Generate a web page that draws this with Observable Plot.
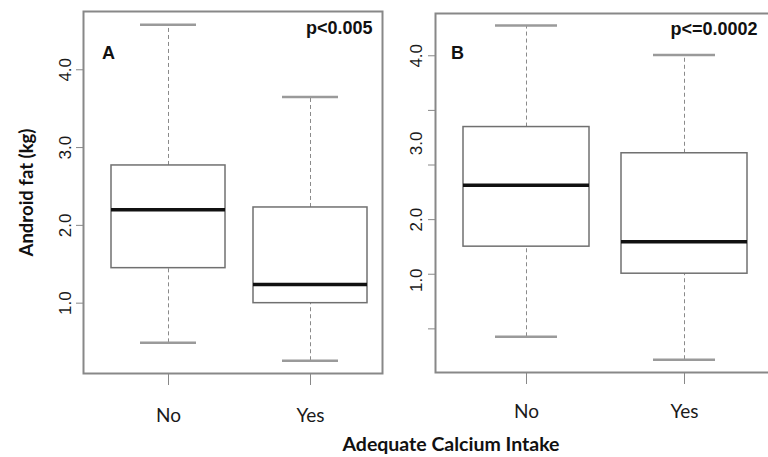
<!DOCTYPE html>
<html><head><meta charset="utf-8">
<script src="https://cdn.jsdelivr.net/npm/d3@7"></script>
<script src="https://cdn.jsdelivr.net/npm/@observablehq/plot@0.6"></script>
<style>
html,body{margin:0;padding:0;background:#fff;}
#wrap{position:relative;width:768px;height:457px;overflow:hidden;background:#fff;}
.pa,.pb{position:absolute;top:0;height:430px;}
.pa{left:0;width:390px;} .pb{left:380px;width:410px;}
.pa svg,.pb svg{max-width:none !important;}
svg g[aria-label="x-axis tick label"] text{font-family:Lato,"Open Sans",sans-serif;font-size:19px;fill:#1a1a1a;}
svg g[aria-label="y-axis tick label"] text{font-family:"Liberation Sans",Arial,sans-serif;font-size:17px;fill:#1a1a1a;}
#xt{position:absolute;left:251px;width:400px;top:434px;text-align:center;font-family:Lato,sans-serif;font-weight:bold;font-size:19.5px;line-height:20px;color:#111;}
</style></head>
<body><div id="wrap"><div class="pa" id="pa"></div><div class="pb" id="pb"></div><div id="xt">Adequate Calcium Intake</div></div>
<script>
const categories = ["No", "Yes"];
// Panel A
const aMin = [0.49, 0.26];
const aQ1  = [1.45, 1.00];
const aMed = [2.20, 1.24];
const aQ3  = [2.77, 2.23];
const aMax = [4.58, 3.65];
const aTicks = [1, 2, 3, 4];
const aTickLabels = ["1.0", "2.0", "3.0", "4.0"];
const aLetter = "A";
const aP = "p<0.005";
// Panel B
const bMin = [0.57, 0.29];
const bQ1  = [1.67, 1.34];
const bMed = [2.42, 1.73];
const bQ3  = [3.13, 2.81];
const bMax = [4.37, 4.01];
const bTickMarks = [4, 10/3, 8/3, 2, 4/3, 2/3];
const bLabelValues = [4.0, 2.93, 2.0, 1.26];
const bTickLabels = ["4.0", "3.0", "2.0", "1.0"];
const bLetter = "B";
const bP = "p<=0.0002";
const yTitle = "Android fat (kg)";

function rows(mn, q1, md, q3, mx) {
  return categories.map((c, i) => ({cat: c, min: mn[i], q1: q1[i], med: md[i], q3: q3[i], max: mx[i]}));
}

function boxMarks(data, capInset) {
  const ws = {x: "cat", stroke: "#8a8a8a", strokeWidth: 1, strokeDasharray: "4,3"};
  const cs = {x: "cat", insetLeft: capInset, insetRight: capInset, stroke: "#9a9a9a", strokeWidth: 2.5};
  return [
    Plot.ruleX(data, {...ws, y1: "q3", y2: "max"}),
    Plot.ruleX(data, {...ws, y1: "min", y2: "q1"}),
    Plot.tickY(data, {...cs, y: "max"}),
    Plot.tickY(data, {...cs, y: "min"}),
    Plot.barY(data, {x: "cat", y1: "q1", y2: "q3", fill: "white", stroke: "#707070", strokeWidth: 1.5}),
    Plot.tickY(data, {x: "cat", y: "med", stroke: "#111", strokeWidth: 3.5})
  ];
}

const dataA = rows(aMin, aQ1, aMed, aQ3, aMax);
const plotA = Plot.plot({
  width: 390, height: 430,
  marginLeft: 83, marginRight: 8, marginTop: 11, marginBottom: 57,
  x: {type: "band", domain: categories, paddingInner: 0.2, paddingOuter: 0.146, align: 0.65, label: null},
  y: {domain: [0.096, 4.749], label: null},
  marks: [
    ...boxMarks(dataA, 29),
    Plot.frame({stroke: "#888", strokeWidth: 2}),
    Plot.axisX({tickSize: 12, tickPadding: 23, stroke: "#888", label: null}),
    Plot.axisY({ticks: aTicks, tickFormat: d => aTickLabels[aTicks.indexOf(d)], tickRotate: -90, tickSize: 7, tickPadding: 6, stroke: "#888", fontSize: 17, label: null}),
    Plot.text([aLetter], {text: d => d, frameAnchor: "top-left", dx: 25, dy: 42, textAnchor: "middle", lineAnchor: "middle", fontFamily: "Liberation Sans Narrow, sans-serif", fontWeight: "bold", fontSize: 18, fill: "#111"}),
    Plot.text([aP], {text: d => d, frameAnchor: "top-right", dx: -10, dy: 17, textAnchor: "end", lineAnchor: "middle", fontFamily: "Liberation Sans, Arial, sans-serif", fontWeight: "bold", fontSize: 18, fill: "#111"}),
    Plot.text([yTitle], {text: d => d, frameAnchor: "left", dx: -56, rotate: -90, textAnchor: "middle", lineAnchor: "middle", fontFamily: "Lato, sans-serif", fontWeight: "bold", fontSize: 18.5, fill: "#111"})
  ]
});
document.getElementById("pa").append(plotA);

const dataB = rows(bMin, bQ1, bMed, bQ3, bMax);
const plotB = Plot.plot({
  width: 410, height: 430,
  marginLeft: 55, marginRight: 10, marginTop: 13, marginBottom: 58,
  x: {type: "band", domain: categories, paddingInner: 0.2, paddingOuter: 0.188, align: 0.47, label: null},
  y: {domain: [0.134, 4.516], label: null},
  marks: [
    ...boxMarks(dataB, 32),
    Plot.frame({stroke: "#888", strokeWidth: 2}),
    Plot.axisX({tickSize: 12, tickPadding: 20, stroke: "#888", label: null}),
    Plot.axisY({ticks: bTickMarks, tickFormat: () => "", tickSize: 7, stroke: "#888", label: null}),
    Plot.axisY({ticks: bLabelValues, tickFormat: d => bTickLabels[bLabelValues.indexOf(d)], tickRotate: -90, tickSize: 0, tickPadding: 14, fontSize: 17, label: null}),
    Plot.text([bLetter], {text: d => d, frameAnchor: "top-left", dx: 22, dy: 40, textAnchor: "middle", lineAnchor: "middle", fontFamily: "Liberation Sans Narrow, sans-serif", fontWeight: "bold", fontSize: 18, fill: "#111"}),
    Plot.text([bP], {text: d => d, frameAnchor: "top-right", dx: -23, dy: 16, textAnchor: "end", lineAnchor: "middle", fontFamily: "Liberation Sans, Arial, sans-serif", fontWeight: "bold", fontSize: 18, fill: "#111"})
  ]
});
document.getElementById("pb").append(plotB);
</script>
</body></html>
